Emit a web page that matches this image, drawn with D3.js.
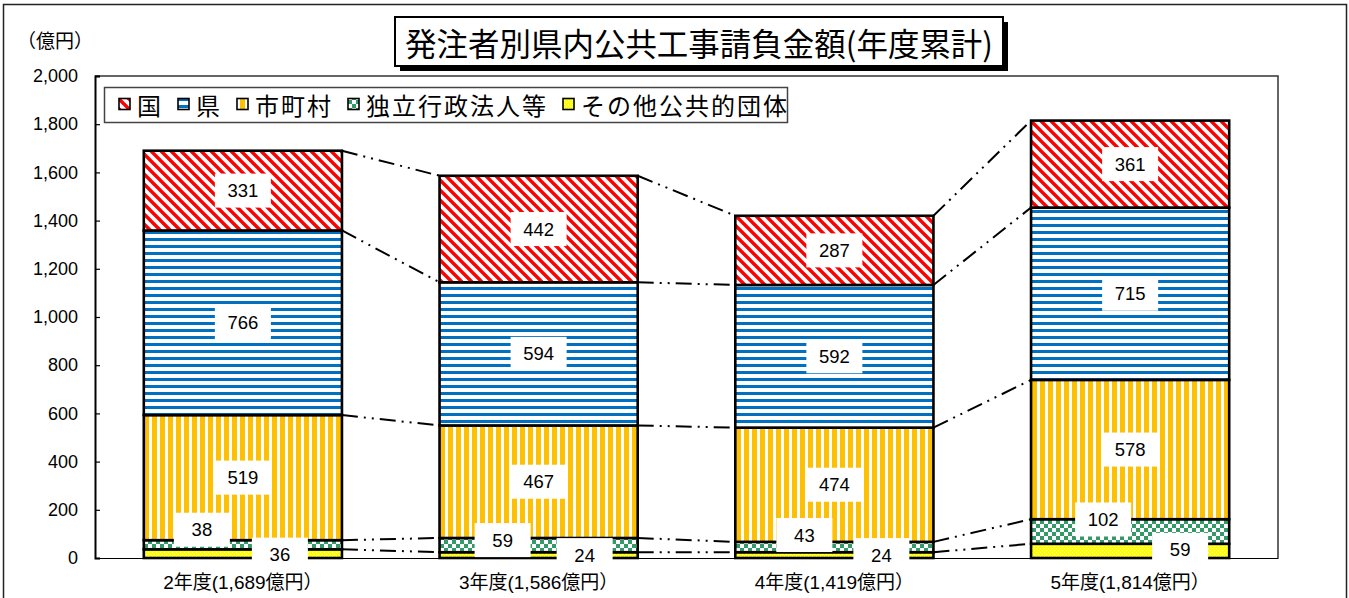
<!DOCTYPE html>
<html lang="ja">
<head>
<meta charset="utf-8">
<script src="https://cdn.jsdelivr.net/npm/d3@7"></script>
<style>
  html, body { margin: 0; padding: 0; background: #fff; }
  svg { display: block; }
  text { font-family: "Liberation Sans", "Noto Sans CJK JP", sans-serif; fill: #000; }
  .jp { font-family: "Noto Sans CJK JP", "Liberation Sans", sans-serif; }
</style>
</head>
<body>
<svg id="chart" width="1349" height="598"></svg>
<script>
// Fiscal years and their axis labels (total in 億円)
const categories = ["2年度", "3年度", "4年度", "5年度"];
const categoryLabels = ["2年度(1,689億円）", "3年度(1,586億円）", "4年度(1,419億円）", "5年度(1,814億円）"];

// Contract amounts by ordering party (億円)
const kuni      = [331, 442, 287, 361];   // 国
const ken       = [766, 594, 592, 715];   // 県
const shichoson = [519, 467, 474, 578];   // 市町村
const dokuritsu = [38, 59, 43, 102];      // 独立行政法人等
const sonota    = [36, 24, 24, 59];       // その他公共的団体

const legendNames = ["国", "県", "市町村", "独立行政法人等", "その他公共的団体"];
const yTicks = [0, 200, 400, 600, 800, 1000, 1200, 1400, 1600, 1800, 2000];

// stacking order, bottom to top
const stackKeys = ["sonota", "dokuritsu", "shichoson", "ken", "kuni"];
const seriesByKey = { kuni, ken, shichoson, dokuritsu, sonota };
const legendKeys = ["kuni", "ken", "shichoson", "dokuritsu", "sonota"];
const keyName = {};
legendKeys.forEach((k, i) => keyName[k] = legendNames[i]);

const rows = categories.map((c, i) => {
  const r = { cat: c };
  stackKeys.forEach(k => r[k] = seriesByKey[k][i]);
  return r;
});

const svg = d3.select("#chart");
const plot = { left: 95, right: 1278, top: 76, bottom: 558 };

const x = d3.scaleBand().domain(categories).range([plot.left, plot.right])
  .paddingInner(0.33).paddingOuter(0.165);
const y = d3.scaleLinear().domain([0, 2000]).range([plot.bottom, plot.top]);

// ---------- fill patterns ----------
const defs = svg.append("defs");
function pat(id, w, h) {
  const p = defs.append("pattern").attr("id", id).attr("patternUnits", "userSpaceOnUse")
    .attr("width", w).attr("height", h);
  p.append("rect").attr("width", w).attr("height", h).attr("fill", "#fff");
  return p;
}
// 国: red downward diagonal stripes
pat("p-kuni", 10, 10).append("path")
  .attr("d", "M-2,-2 L12,12 M-7,3 L7,17 M3,-7 L17,7")
  .attr("stroke", "#ff0000").attr("stroke-width", 3.4);
// 県: blue horizontal stripes
pat("p-ken", 8, 7).append("rect").attr("x", 0).attr("y", 0).attr("width", 8).attr("height", 3).attr("fill", "#0070c0");
// 市町村: orange vertical stripes
pat("p-shichoson", 8, 8).append("rect").attr("x", 0).attr("y", 0).attr("width", 5).attr("height", 8).attr("fill", "#ffc000");
// 独立行政法人等: green checkerboard
{
  const p = pat("p-dokuritsu", 8, 8);
  p.append("rect").attr("x", 0).attr("y", 0).attr("width", 4).attr("height", 4).attr("fill", "#339966");
  p.append("rect").attr("x", 4).attr("y", 4).attr("width", 4).attr("height", 4).attr("fill", "#339966");
}
// その他公共的団体: yellow fine dots
{
  const p = defs.append("pattern").attr("id", "p-sonota").attr("patternUnits", "userSpaceOnUse")
    .attr("width", 4).attr("height", 4);
  p.append("rect").attr("width", 4).attr("height", 4).attr("fill", "#ffff00");
  p.append("rect").attr("x", 0).attr("y", 0).attr("width", 1).attr("height", 1).attr("fill", "#fff");
  p.append("rect").attr("x", 2).attr("y", 2).attr("width", 1).attr("height", 1).attr("fill", "#fff");
}

// ---------- outer frame ----------
svg.append("rect").attr("x", 3.5).attr("y", 4.5).attr("width", 1343).attr("height", 620)
  .attr("fill", "none").attr("stroke", "#222").attr("stroke-width", 1.5);

// ---------- plot area border ----------
svg.append("path")
  .attr("d", `M${plot.left},${plot.top} H${plot.right} V${plot.bottom}`)
  .attr("fill", "none").attr("stroke", "#333").attr("stroke-width", 1.5);

// ---------- y axis ----------
const yAxis = svg.append("g").attr("transform", `translate(${plot.left},0)`)
  .call(d3.axisLeft(y).tickValues(yTicks).tickSize(-5).tickPadding(17).tickFormat(d3.format(",")));
yAxis.select(".domain").attr("stroke", "#000").attr("stroke-width", 2);
yAxis.selectAll(".tick line").attr("stroke", "#000").attr("stroke-width", 1.2);
yAxis.selectAll(".tick text").attr("font-size", 18).attr("font-family", "Liberation Sans, sans-serif");

svg.append("text").attr("class", "jp").attr("x", 17).attr("y", 39)
  .attr("dominant-baseline", "central").attr("font-size", 19).text("（億円）");

// ---------- x axis ----------
const xAxis = svg.append("g").attr("transform", `translate(0,${plot.bottom})`)
  .call(d3.axisBottom(x).tickSize(0).tickPadding(18).tickFormat((d, i) => categoryLabels[i]));
xAxis.select(".domain").attr("stroke", "#000").attr("stroke-width", 1);
xAxis.selectAll(".tick text").attr("font-size", 19);

// ---------- stacked bars ----------
const stacked = d3.stack().keys(stackKeys)(rows);

const connector = svg.append("g");
const bars = svg.append("g");
stacked.forEach(layer => {
  bars.append("g").selectAll("rect").data(layer).join("rect")
    .attr("x", d => x(d.data.cat))
    .attr("width", x.bandwidth())
    .attr("y", d => y(d[1]))
    .attr("height", d => y(d[0]) - y(d[1]))
    .attr("fill", `url(#p-${layer.key})`)
    .attr("stroke", "#000").attr("stroke-width", 2.6);
});

// dash-dot-dot lines joining each boundary between neighbouring bars
stacked.forEach(layer => {
  for (let i = 0; i < layer.length - 1; i++) {
    const a = layer[i], b = layer[i + 1];
    connector.append("line")
      .attr("x1", x(a.data.cat) + x.bandwidth()).attr("y1", y(a[1]))
      .attr("x2", x(b.data.cat)).attr("y2", y(b[1]))
      .attr("stroke", "#000").attr("stroke-width", 2)
      .attr("stroke-dasharray", "16,6,2,6,2,6");
  }
});

// ---------- value labels ----------
// horizontal / vertical nudges for the thin bottom segments so their labels stay readable
const labelNudge = {
  dokuritsu: [[-41, -15], [-36, -5], [-30, -12], [-27, -12]],
  sonota:    [[37, 1], [46, 0], [47, 0], [50, -1]]
};
const labels = svg.append("g");
stacked.forEach(layer => {
  layer.forEach((d, i) => {
    const nudge = labelNudge[layer.key] ? labelNudge[layer.key][i] : [0, 0];
    const cx = x(d.data.cat) + x.bandwidth() / 2 + nudge[0];
    const cy = (y(d[0]) + y(d[1])) / 2 + nudge[1];
    const g = labels.append("g").attr("transform", `translate(${cx},${cy})`);
    g.append("rect").attr("x", -28).attr("y", -17).attr("width", 56).attr("height", 34).attr("fill", "#fff");
    g.append("text").attr("text-anchor", "middle").attr("dominant-baseline", "central")
      .attr("font-size", 18.5).text(d.data[layer.key]);
  });
});

// ---------- legend ----------
const legend = svg.append("g");
legend.append("rect").attr("x", 104.5).attr("y", 87.5).attr("width", 683).attr("height", 35)
  .attr("fill", "#fff").attr("stroke", "#444").attr("stroke-width", 1.5);
let lx = 119;
legendKeys.forEach(k => {
  legend.append("rect").attr("x", lx).attr("y", 98.5).attr("width", 11).attr("height", 11)
    .attr("fill", `url(#p-${k})`).attr("stroke", "#000").attr("stroke-width", 1.6);
  const t = legend.append("text").attr("class", "jp").attr("x", lx + 18).attr("y", 104)
    .attr("dominant-baseline", "central").attr("font-size", 24).attr("letter-spacing", 2)
    .text(keyName[k]);
  lx = lx + 18 + t.node().getComputedTextLength() + 15;
});

// ---------- title ----------
const title = svg.append("g");
title.append("rect").attr("x", 400).attr("y", 22).attr("width", 608).attr("height", 49).attr("fill", "#000");
title.append("rect").attr("x", 395).attr("y", 17).attr("width", 608).attr("height", 49)
  .attr("fill", "#fff").attr("stroke", "#000").attr("stroke-width", 2);
title.append("text").attr("class", "jp").attr("x", 699).attr("y", 42)
  .attr("text-anchor", "middle").attr("dominant-baseline", "central")
  .attr("font-size", 32).attr("textLength", 588).attr("lengthAdjust", "spacingAndGlyphs")
  .text("発注者別県内公共工事請負金額(年度累計)");
</script>
</body>
</html>
